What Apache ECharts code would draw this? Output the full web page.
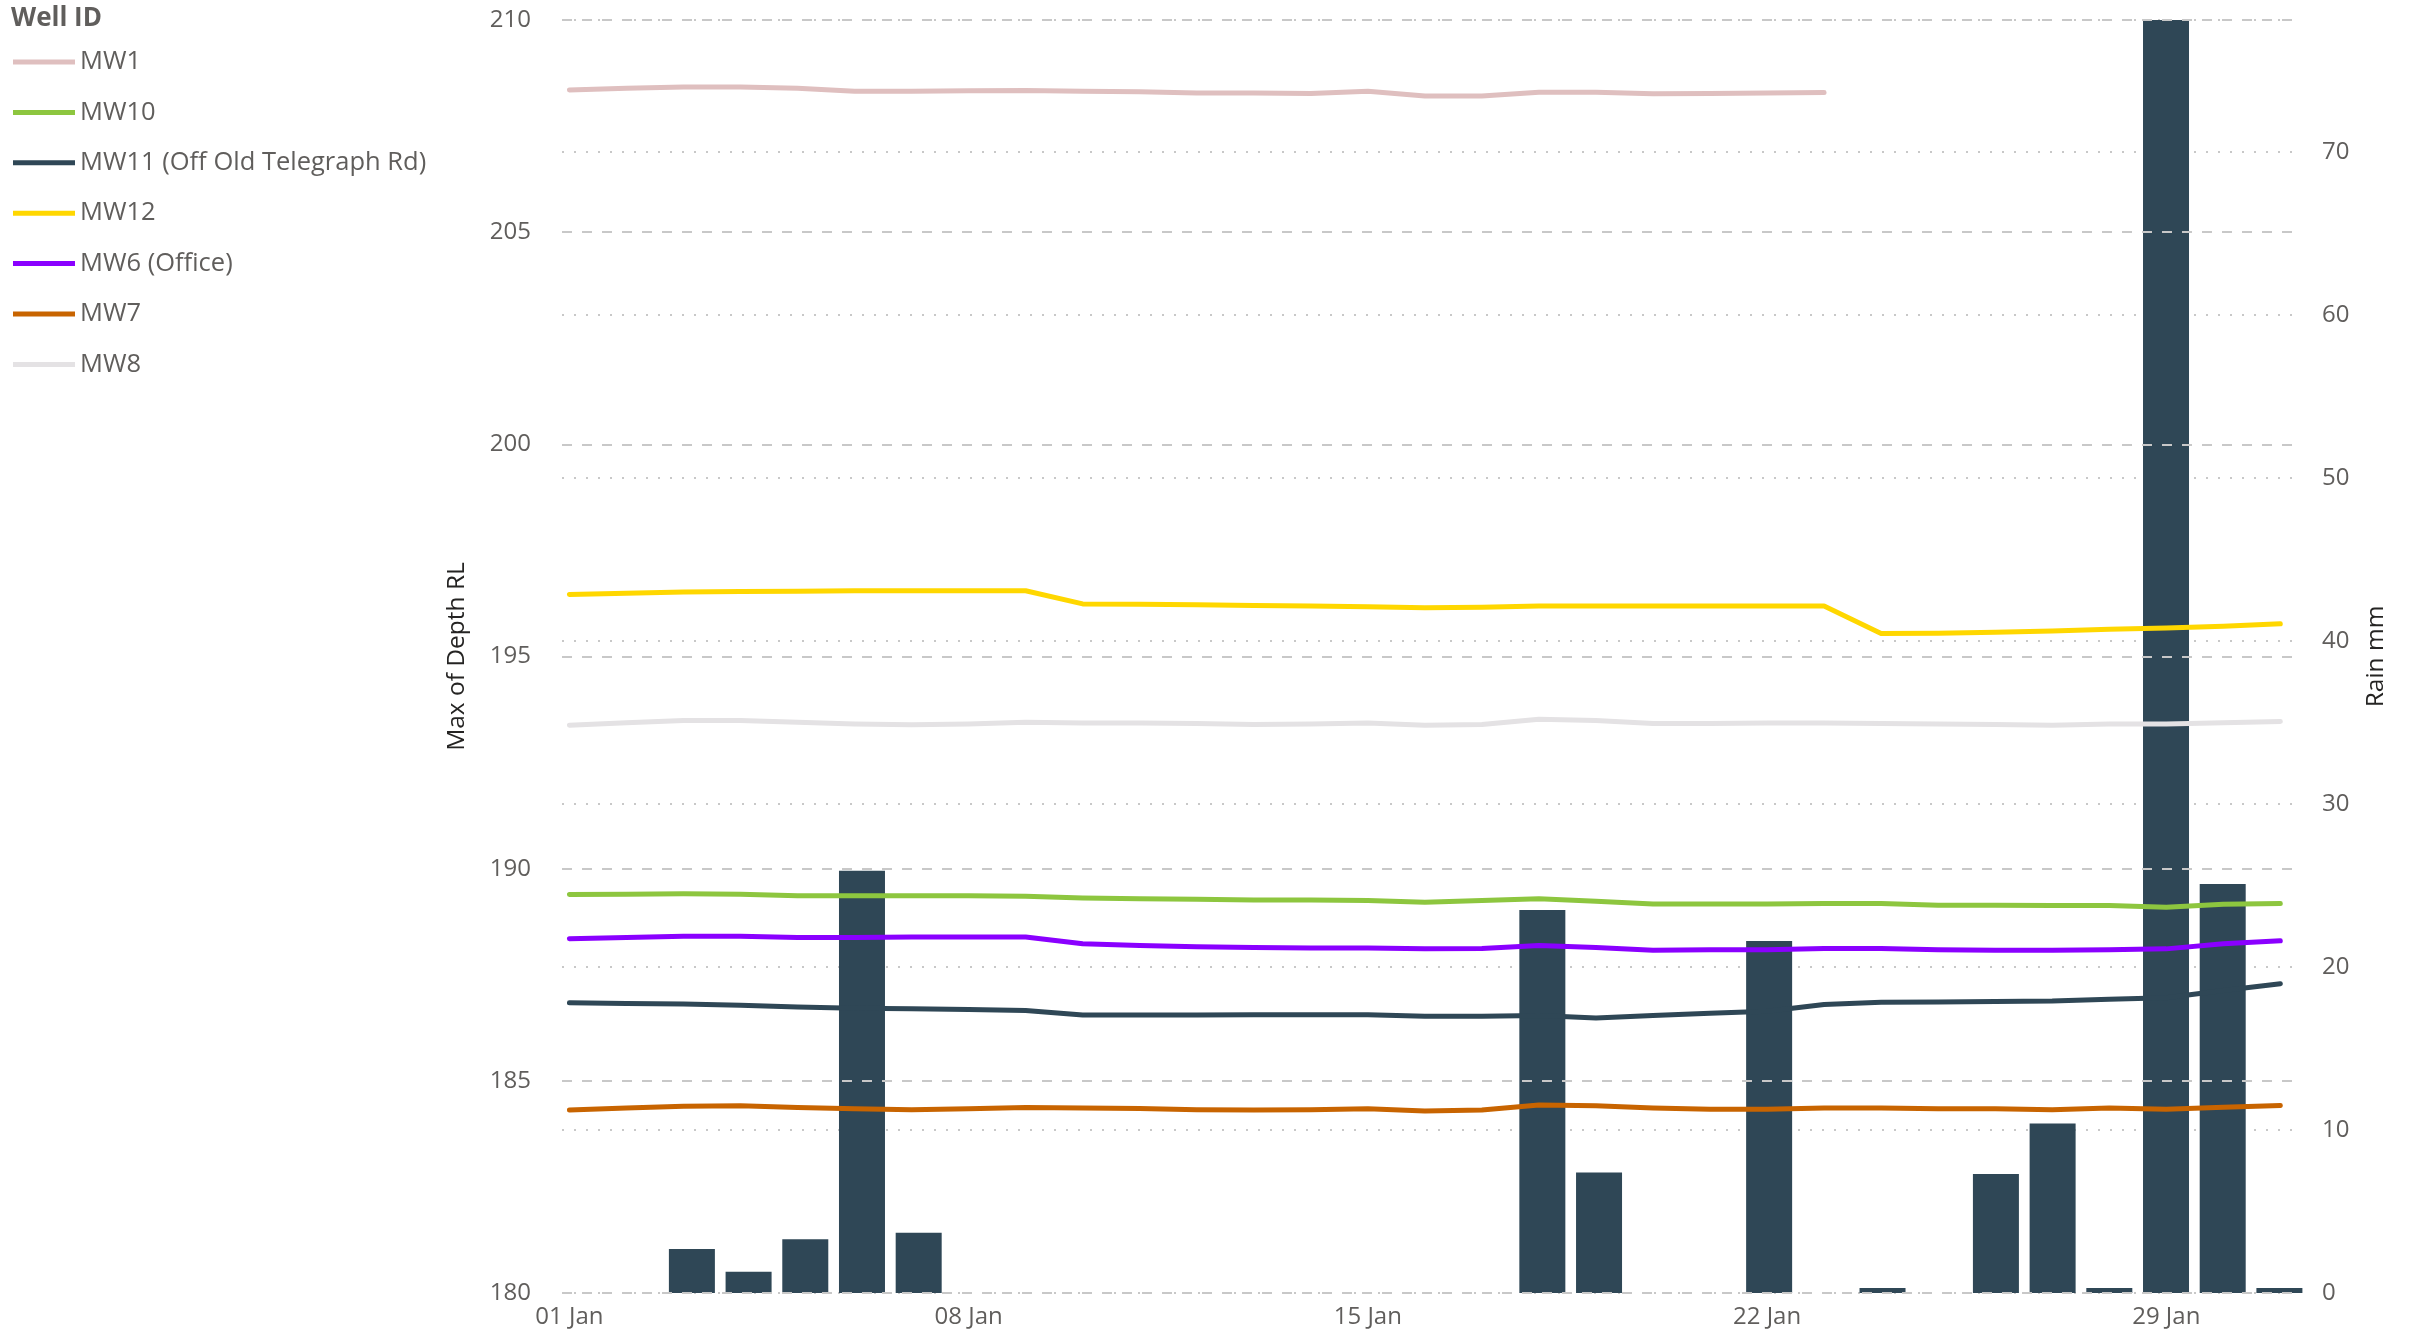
<!DOCTYPE html>
<html>
<head>
<meta charset="utf-8">
<script src="https://cdn.jsdelivr.net/npm/echarts@6/dist/echarts.min.js"></script>
<style>
html, body { margin: 0; padding: 0; background: #fff; }
#chart { width: 2411px; height: 1333px; }
</style>
</head>
<body>
<div id="chart"></div>
<script>
// days of January, index 0 = 01 Jan
var days = ['01 Jan','02 Jan','03 Jan','04 Jan','05 Jan','06 Jan','07 Jan','08 Jan','09 Jan','10 Jan',
            '11 Jan','12 Jan','13 Jan','14 Jan','15 Jan','16 Jan','17 Jan','18 Jan','19 Jan','20 Jan',
            '21 Jan','22 Jan','23 Jan','24 Jan','25 Jan','26 Jan','27 Jan','28 Jan','29 Jan','30 Jan','31 Jan'];
var xTickDays = [0, 7, 14, 21, 28];

var mw1  = [208.35,208.39,208.42,208.42,208.39,208.32,208.32,208.33,208.34,208.32,208.31,208.28,208.28,208.27,208.32,208.21,
            208.21,208.30,208.30,208.26,208.27,208.28,208.29,null,null,null,null,null,null,null,null];
var mw10 = [189.39,189.40,189.41,189.40,189.36,189.36,189.36,189.36,189.35,189.31,189.29,189.28,189.26,189.26,189.25,189.21,
            189.25,189.29,189.23,189.17,189.17,189.17,189.18,189.18,189.14,189.14,189.13,189.13,189.09,189.16,189.18];
var mw11 = [186.84,186.82,186.81,186.78,186.74,186.71,186.70,186.68,186.66,186.55,186.55,186.55,186.56,186.56,186.56,186.52,
            186.52,186.54,186.48,186.54,186.59,186.64,186.80,186.85,186.86,186.87,186.88,186.92,186.96,187.13,187.29];
var mw12 = [196.46,196.49,196.52,196.53,196.54,196.55,196.55,196.55,196.55,196.24,196.23,196.22,196.20,196.19,196.17,196.15,
            196.16,196.19,196.19,196.19,196.19,196.19,196.19,195.54,195.55,195.57,195.60,195.64,195.67,195.71,195.77];
var mw6  = [188.35,188.38,188.41,188.41,188.38,188.38,188.39,188.39,188.39,188.23,188.19,188.16,188.14,188.13,188.13,188.11,
            188.12,188.19,188.14,188.08,188.09,188.09,188.12,188.12,188.09,188.08,188.08,188.09,188.11,188.23,188.30];
var mw7  = [184.31,184.36,184.40,184.41,184.37,184.34,184.32,184.34,184.37,184.36,184.35,184.32,184.31,184.32,184.34,184.29,
            184.31,184.43,184.41,184.36,184.33,184.33,184.36,184.36,184.34,184.34,184.32,184.36,184.33,184.38,184.42];
var mw8  = [193.38,193.44,193.49,193.49,193.45,193.41,193.39,193.41,193.45,193.43,193.43,193.42,193.40,193.41,193.43,193.38,
            193.40,193.52,193.49,193.42,193.42,193.43,193.43,193.42,193.41,193.40,193.38,193.41,193.41,193.44,193.47];
var rain = [null,null,2.7,1.3,3.3,25.9,3.7,null,null,null,null,null,null,null,null,null,
            null,23.5,7.4,null,null,21.6,null,0.3,null,7.3,10.4,0.3,78.1,25.1,0.3];

var wellNames  = ['MW1','MW10','MW11 (Off Old Telegraph Rd)','MW12','MW6 (Office)','MW7','MW8'];
var wellData   = [mw1, mw10, mw11, mw12, mw6, mw7, mw8];
var wellColors = ['#DFBFBF','#8DC63F','#2F4756','#FFD700','#8A00FF','#C86400','#E4E2E4'];

var font = "'Open Sans', sans-serif";
var grey = '#605E5C';

function pts(arr) {
    return arr.map(function (v, i) { return [i, v]; });
}

var chart = echarts.init(document.getElementById('chart'));

var series = [{
    name: 'Rain',
    type: 'bar',
    xAxisIndex: 1,
    yAxisIndex: 1,
    barWidth: 46,
    itemStyle: { color: '#2F4756' },
    z: 2,
    data: pts(rain)
}];
wellNames.forEach(function (n, i) {
    series.push({
        name: n,
        type: 'line',
        symbol: 'none',
        xAxisIndex: 0,
        yAxisIndex: 0,
        z: 5,
        lineStyle: { width: 5, color: wellColors[i], cap: 'round', join: 'round' },
        itemStyle: { color: wellColors[i] },
        data: pts(wellData[i])
    });
});

var option = {
    animation: false,
    textStyle: { fontFamily: font },
    title: {
        text: 'Well ID',
        left: 6, top: 1,
        textStyle: { fontFamily: font, fontSize: 26, fontWeight: 'bold', color: grey }
    },
    legend: {
        orient: 'vertical',
        left: 8, top: 42,
        icon: 'rect',
        itemWidth: 62, itemHeight: 5,
        itemGap: 20.4,
        data: wellNames,
        textStyle: { fontFamily: font, fontSize: 25.5, color: grey, lineHeight: 30 }
    },
    grid: { left: 562, right: 113, top: 20, bottom: 40 },
    xAxis: [{
        type: 'value',
        min: -0.13,
        max: 30.31,
        axisLine: { show: false },
        axisTick: { show: false },
        splitLine: { show: false },
        axisLabel: {
            customValues: xTickDays,
            formatter: function (v) { return days[Math.round(v)]; },
            fontFamily: font, fontSize: 24, color: grey, margin: 12
        }
    }, {
        // rain bars sit on a slightly different day scale in the source chart
        type: 'value',
        min: -0.291,
        max: 30.328,
        show: false
    }],
    yAxis: [{
        type: 'value',
        min: 180, max: 210, interval: 5,
        z: 3,
        name: 'Max of Depth RL',
        nameLocation: 'middle',
        nameGap: 92,
        nameTextStyle: { fontFamily: font, fontSize: 24.5, color: '#252423' },
        axisLine: { show: false },
        axisTick: { show: false },
        axisLabel: { fontFamily: font, fontSize: 24, color: grey, margin: 31 },
        splitLine: { lineStyle: { color: '#C8C8C8', width: 2, type: [10, 10] } }
    }, {
        type: 'value',
        min: 0, max: 78.1, interval: 10,
        name: 'Rain mm',
        nameLocation: 'middle',
        nameGap: 66,
        nameTextStyle: { fontFamily: font, fontSize: 24.5, color: '#252423' },
        axisLine: { show: false },
        axisTick: { show: false },
        axisLabel: { fontFamily: font, fontSize: 24, color: grey, margin: 24, showMaxLabel: false },
        splitLine: { lineStyle: { color: '#C8C8C8', width: 2, type: [2, 10] } }
    }],
    series: series
};

chart.setOption(option);
</script>
</body>
</html>
